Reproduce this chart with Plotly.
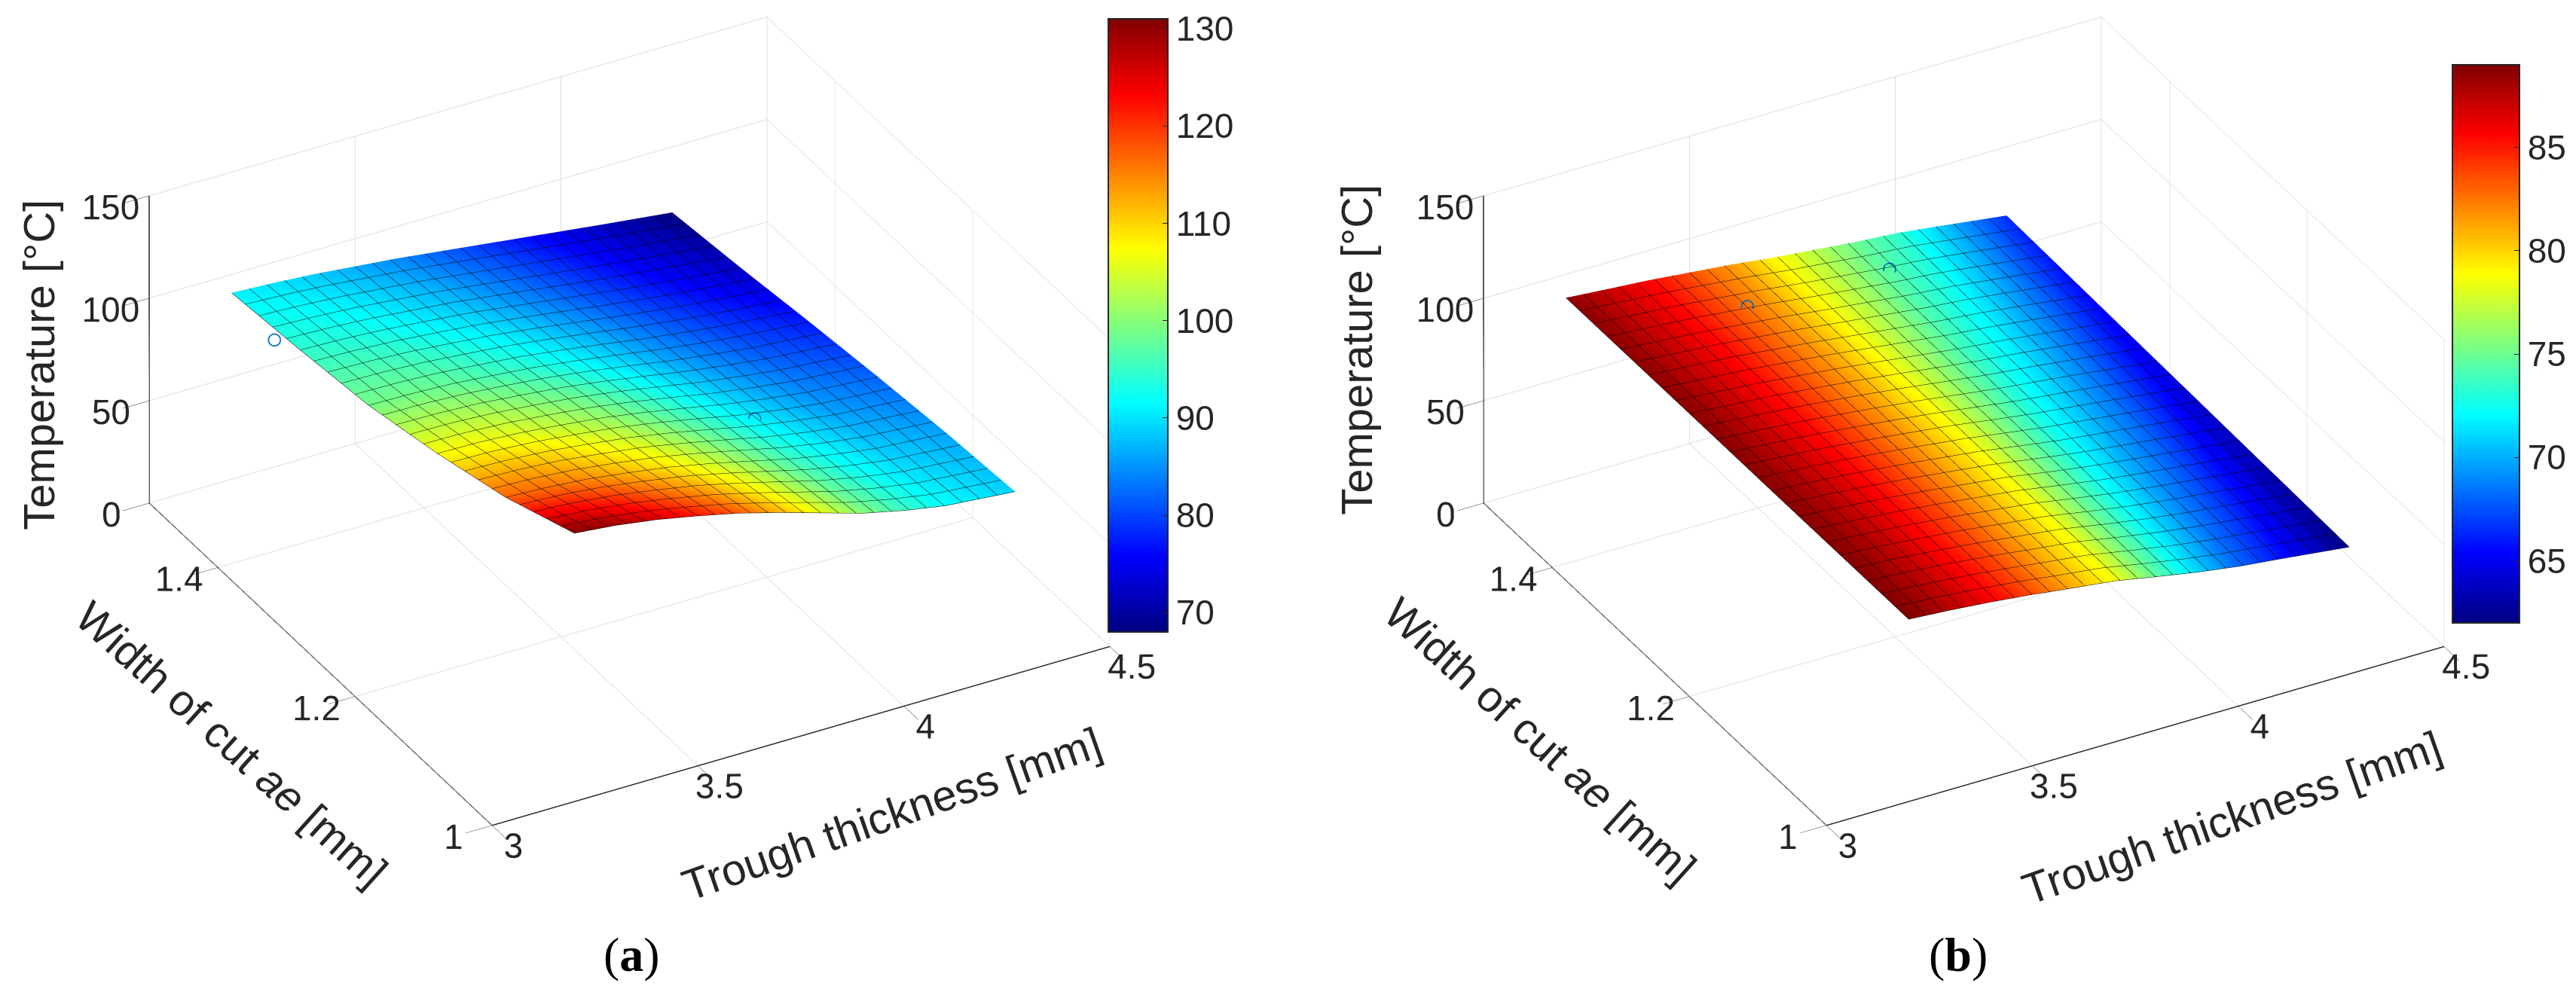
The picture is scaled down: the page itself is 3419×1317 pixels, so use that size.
import plotly.graph_objects as go

# grid: trough thickness [mm] and width of cut ae [mm]
thickness = [3.2, 3.3, 3.4, 3.5, 3.6, 3.7, 3.8, 3.9, 4.0, 4.1, 4.27]
width_cut = [1.0, 1.1, 1.2, 1.3, 1.4, 1.5]

# (a) temperature [°C], one row per width of cut
temp_a = [
    [131.0, 129.0, 126.0, 122.0, 117.5, 112.0, 106.0, 100.0, 95.5, 92.0, 89.0],
    [117.0, 116.1, 114.4, 111.7, 108.6, 104.5, 99.9, 95.2, 91.5, 88.6, 86.1],
    [107.0, 106.6, 105.4, 103.4, 101.1, 97.9, 94.2, 90.3, 87.2, 84.6, 82.1],
    [99.0, 98.7, 97.8, 96.1, 94.2, 91.6, 88.6, 85.4, 82.7, 80.3, 77.5],
    [94.6, 93.9, 92.7, 90.9, 89.0, 86.4, 83.7, 80.9, 78.3, 75.9, 72.4],
    [91.0, 90.0, 88.5, 86.5, 84.5, 82.0, 79.5, 77.0, 74.5, 72.0, 68.0],
]

# (b) temperature [°C]
temp_b = [
    [89.0, 87.6, 85.8, 83.6, 81.0, 78.6, 74.8, 71.2, 68.2, 66.0, 62.0],
    [88.9, 87.5, 85.7, 83.6, 81.1, 78.7, 75.2, 72.0, 69.3, 67.0, 62.9],
    [88.8, 87.4, 85.7, 83.6, 81.2, 78.8, 75.7, 72.7, 70.3, 68.0, 63.8],
    [88.8, 87.2, 85.6, 83.5, 81.3, 78.8, 76.1, 73.5, 71.4, 69.0, 64.7],
    [88.7, 87.1, 85.6, 83.5, 81.4, 78.9, 76.6, 74.2, 72.4, 70.0, 65.6],
    [88.6, 87.0, 85.5, 83.5, 81.5, 79.0, 77.0, 75.0, 73.5, 71.0, 66.5],
]

# measured points that peek out of the surfaces
pts_a_x = [3.17, 3.92]
pts_a_y = [1.42, 1.17]
pts_a_z = [95.0, 91.5]
pts_b_x = [3.54, 3.91]
pts_b_y = [1.44, 1.455]
pts_b_z = [83.5, 75.5]

x_ticks = [3, 3.5, 4, 4.5]
y_ticks = [1, 1.2, 1.4]
z_ticks = [0, 50, 100, 150]
cb_ticks_a = [70, 80, 90, 100, 110, 120, 130]
cb_ticks_b = [65, 70, 75, 80, 85]

FONT = "Liberation Sans"
TXT = "#262626"

# matlab jet
jet = [[0, "#000080"], [0.125, "#0000ff"], [0.375, "#00ffff"],
       [0.625, "#ffff00"], [0.875, "#ff0000"], [1, "#800000"]]

mesh_x = dict(show=True, start=thickness[0], end=thickness[-1],
              size=(thickness[-1] - thickness[0]) / 25, color="black", width=4, highlight=False)
mesh_y = dict(show=True, start=width_cut[0], end=width_cut[-1],
              size=(width_cut[-1] - width_cut[0]) / 25, color="black", width=4, highlight=False)


def surface(z, scene, cb_x, cb_y, cb_len, cb_thick, cb_ticks):
    return go.Surface(
        x=thickness, y=width_cut, z=z, scene=scene,
        colorscale=jet,
        lighting=dict(ambient=1.0, diffuse=0.0, specular=0.0, fresnel=0.0, roughness=1.0),
        contours=dict(x=mesh_x, y=mesh_y, z=dict(show=False, highlight=False)),
        colorbar=dict(x=cb_x, xanchor="left", y=cb_y, yanchor="middle", xpad=0, ypad=0,
                      len=cb_len, lenmode="fraction", thickness=cb_thick,
                      outlinewidth=2, outlinecolor=TXT,
                      tickvals=cb_ticks, ticks="inside", ticklen=8, tickcolor=TXT,
                      tickfont=dict(family=FONT, size=46, color=TXT)),
        hoverinfo="skip",
    )


def points(xs, ys, zs, scene):
    return go.Scatter3d(x=xs, y=ys, z=zs, scene=scene, mode="markers",
                        marker=dict(symbol="circle-open", size=10, color="#0072BD"),
                        showlegend=False, hoverinfo="skip")


def axis(ticks, rng):
    return dict(range=rng, tickvals=ticks, title=dict(text=""),
                showbackground=False, showgrid=True, gridcolor="#dcdcdc", gridwidth=2,
                showline=True, linecolor=TXT, linewidth=3, zeroline=False, showspikes=False,
                ticks="outside", ticklen=40, tickcolor=TXT, tickangle=0,
                tickfont=dict(family=FONT, size=23.5, color=TXT))


k = 1.27
zoom = 1.424
shift = 0.191
view = (-0.414, -0.746, 0.522)
cam = dict(eye=dict(x=view[0] * k, y=view[1] * k, z=view[2] * k - shift), up=dict(x=0, y=0, z=1),
           center=dict(x=0, y=0, z=-shift), projection=dict(type="orthographic"))


def scene_cfg(dx, dy):
    return dict(domain=dict(x=dx, y=dy),
                xaxis=axis(x_ticks, [3, 4.5]),
                yaxis=axis(y_ticks, [1, 1.5]),
                zaxis=axis(z_ticks, [0, 150]),
                aspectmode="manual", aspectratio=dict(x=zoom, y=zoom, z=0.51 * zoom),
                camera=cam)


fig = go.Figure()
fig.add_trace(surface(temp_a, "scene", 0.428, 0.678, 0.618, 79, cb_ticks_a))
fig.add_trace(points(pts_a_x, pts_a_y, pts_a_z, "scene"))
fig.add_trace(surface(temp_b, "scene2", 0.9497, 0.6595, 0.563, 89, cb_ticks_b))
fig.add_trace(points(pts_b_x, pts_b_y, pts_b_z, "scene2"))

labels = [
    ("Temperature [°C]", 0.0129, 0.638, -90),
    ("Width of cut <i>ae</i> [mm]", 0.0877, 0.2566, 42),
    ("Trough thickness [mm]", 0.3437, 0.186, -19.4),
    ("Temperature [°C]", 0.5244, 0.6538, -90),
    ("Width of cut <i>ae</i> [mm]", 0.5955, 0.2597, 42),
    ("Trough thickness [mm]", 0.864, 0.1815, -19.4),
]
for text, x, y, ang in labels:
    fig.add_annotation(text=text, x=x, y=y, xref="paper", yref="paper", showarrow=False,
                       xanchor="center", yanchor="middle",
                       textangle=ang, font=dict(family=FONT, size=58, color=TXT))

for text, x in [("(<b>a</b>)", 0.2428), ("(<b>b</b>)", 0.7578)]:
    fig.add_annotation(text=text, x=x, y=0.0433, xref="paper", yref="paper", showarrow=False,
                       xanchor="center", yanchor="middle",
                       font=dict(family="Liberation Serif", size=64, color="black"))

fig.update_layout(
    width=3419, height=1317,
    margin=dict(l=0, r=0, t=0, b=0),
    paper_bgcolor="white",
    showlegend=False,
    scene=scene_cfg([0.002, 0.482], [0.0, 1.0]),
    scene2=scene_cfg([0.52, 1.0], [0.0, 1.0]),
)

fig.write_html("out.html")
